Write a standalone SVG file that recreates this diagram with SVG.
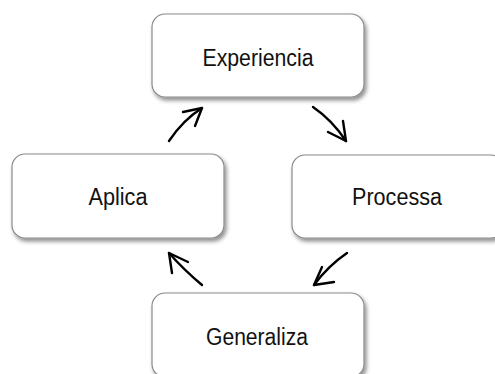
<svg xmlns="http://www.w3.org/2000/svg" width="495" height="374" viewBox="0 0 495 374">
  <defs>
    <filter id="shadow" x="-10%" y="-10%" width="125%" height="130%">
      <feGaussianBlur in="SourceAlpha" stdDeviation="2"/>
      <feOffset dx="2" dy="3" result="b"/>
      <feComponentTransfer><feFuncA type="linear" slope="0.45"/></feComponentTransfer>
      <feMerge><feMergeNode/><feMergeNode in="SourceGraphic"/></feMerge>
    </filter>
  </defs>
  <style>
    .box { fill: #ffffff; stroke: #8a8a8a; stroke-width: 1.2; filter: url(#shadow); }
    .label { font-family: "Liberation Sans", Arial, sans-serif; font-size: 23px; fill: #111111; text-anchor: middle; }
    .arrow { fill: none; stroke: #000000; stroke-width: 2.4; stroke-linecap: round; stroke-linejoin: round; }
  </style>
  <rect width="495" height="374" fill="#ffffff"/>

  <g id="connectors">
    <!-- Aplica to Experiencia -->
    <path class="arrow" d="M169 141 Q183 120 202 108"/>
    <path class="arrow" d="M183 112 L202 108 L195 126"/>
    <!-- Experiencia to Processa -->
    <path class="arrow" d="M313 107 Q332 120 346 141"/>
    <path class="arrow" d="M343 121 L346 141 L328 132"/>
    <!-- Processa to Generaliza -->
    <path class="arrow" d="M347 253 Q328 266 314 285"/>
    <path class="arrow" d="M322 267 L314 285 L334 282"/>
    <!-- Generaliza to Aplica -->
    <path class="arrow" d="M202 285 Q184 270 169 253"/>
    <path class="arrow" d="M172 273 L169 253 L188 262"/>
  </g>

  <g id="node-experiencia">
    <rect class="box" x="152" y="14" width="212" height="83" rx="13"/>
    <text class="label" x="258" y="66" textLength="111" lengthAdjust="spacingAndGlyphs">Experiencia</text>
  </g>

  <g id="node-aplica">
    <rect class="box" x="12" y="154" width="212" height="84" rx="13"/>
    <text class="label" x="118" y="205" textLength="59" lengthAdjust="spacingAndGlyphs">Aplica</text>
  </g>

  <g id="node-processa">
    <rect class="box" x="292" y="155" width="212" height="83" rx="13"/>
    <text class="label" x="397" y="205" textLength="90" lengthAdjust="spacingAndGlyphs">Processa</text>
  </g>

  <g id="node-generaliza">
    <rect class="box" x="152" y="293" width="212" height="84" rx="13"/>
    <text class="label" x="257" y="345" textLength="102" lengthAdjust="spacingAndGlyphs">Generaliza</text>
  </g>
</svg>
